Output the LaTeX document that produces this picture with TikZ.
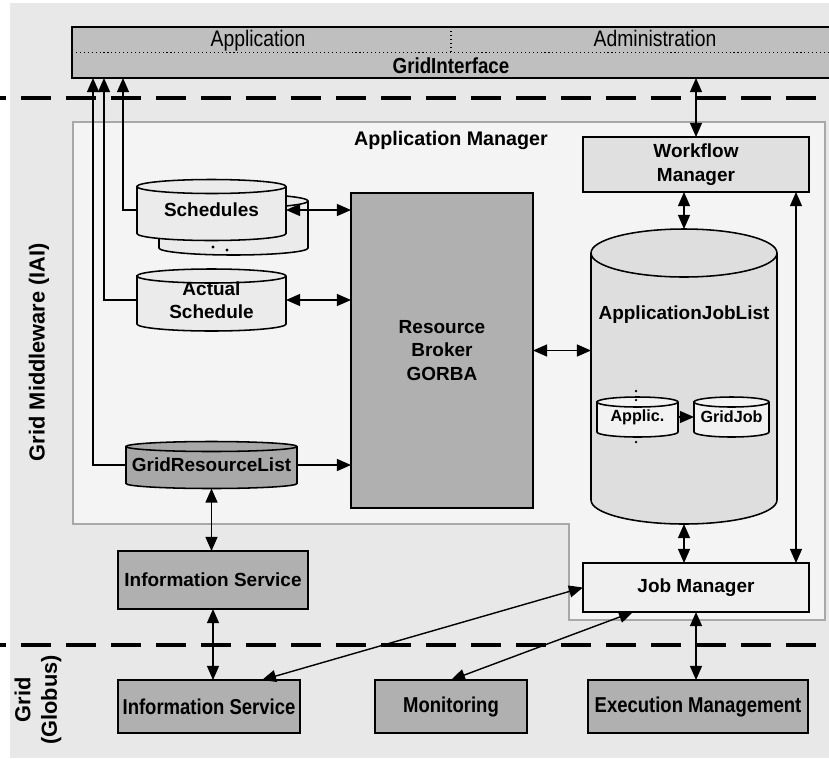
\documentclass[tikz,border=0pt]{standalone}
\usepackage{fontspec}
\setmainfont{Liberation Sans}
\newfontfamily\narrowfont[FakeStretch=0.86]{Liberation Sans}
\usetikzlibrary{arrows.meta, positioning, calc}

\definecolor{bggray}{gray}{0.91}
\definecolor{amfill}{gray}{0.955}
\definecolor{amline}{gray}{0.66}
\definecolor{barfill}{gray}{0.75}
\definecolor{wfmfill}{gray}{0.88}
\definecolor{jmfill}{gray}{0.94}
\definecolor{darkfill}{gray}{0.69}
\definecolor{grlfill}{gray}{0.66}
\definecolor{ajlfill}{gray}{0.87}
\definecolor{cylfill}{gray}{0.92}
\definecolor{smallfill}{gray}{0.95}

\tikzset{
  wh/.style 2 args={minimum width=#1*0.025cm, minimum height=#2*0.025cm},
  box/.style={draw, line width=1.1pt, inner sep=0pt, outer sep=0pt, align=center,
    font=\bfseries\fontsize{13.5}{17}\selectfont},
  gridbox/.style={box, fill=darkfill, font=\narrowfont\bfseries\fontsize{15.3}{18}\selectfont},
  cyltext/.style={inner sep=0pt, outer sep=0pt, align=center,
    font=\bfseries\fontsize{13.5}{16}\selectfont},
  bartext/.style={anchor=base, font=\narrowfont\fontsize{16}{18}\selectfont},
  sidetext/.style={rotate=90, align=center, font=\bfseries\fontsize{15.5}{19}\selectfont},
  link/.style={line width=1pt, {Triangle[length=10pt,width=8.5pt]}-{Triangle[length=10pt,width=8.5pt]}},
  oneway/.style={line width=1pt, -{Triangle[length=10pt,width=8.5pt]}},
  layerline/.style={line width=3pt, dash pattern=on 21pt off 11pt, dash phase=17pt},
  divider/.style={line width=0.8pt, dotted},
}

% cylinder: name, centre x, centre y, width, height, y radius, fill, text
\newcommand{\drum}[8]{%
  \filldraw[fill=#7, line width=1.1pt] ({#2-#4/2},{#3-#5/2}) -- ({#2-#4/2},{#3+#5/2})
    arc[start angle=180, end angle=0, x radius=#4/2, y radius=#6]
    -- ({#2+#4/2},{#3-#5/2})
    arc[start angle=0, end angle=-180, x radius=#4/2, y radius=#6] -- cycle;
  \draw[line width=1.1pt] ({#2-#4/2},{#3-#5/2})
    arc[start angle=180, end angle=0, x radius=#4/2, y radius=#6];
  \node[cyltext, wh={#4}{#5}] (#1) at (#2,#3) {#8};
  \coordinate (#1t) at ({#2},{#3-#5/2-#6});
  \coordinate (#1b) at ({#2},{#3+#5/2+#6});
}

\begin{document}
\begin{tikzpicture}[x=0.025cm, y=-0.025cm]
\useasboundingbox (0,0) rectangle (829,758);
\fill[bggray] (10,3) rectangle (829,758);

% application manager area
\draw[amline, line width=0.8pt, fill=amfill] (73,122) -- (825,122) -- (825,620)
  -- (569,620) -- (569,524) -- (73,524) -- cycle;
\node[font=\bfseries\fontsize{14}{17}\selectfont] (amlabel) at (451,140) {Application Manager};

% layer borders
\draw[layerline] (0,98) -- (829,98);
\draw[layerline] (0,645) -- (829,645);
\node[sidetext] (gmw) at (39,352) {Grid Middleware (IAI)};
\node[sidetext] (globus) at (38,700) {Grid\\(Globus)};

% grid interface
\node[draw, line width=1.1pt, fill=barfill, outer sep=0pt, wh={770}{51}] (gi) at (457,52.5) {};
\draw[divider] (gi.west) -- (gi.east);
\draw[divider] (451,27) -- (451,52.5);
\node[bartext] (appl) at (258,46) {Application};
\node[bartext] (admin) at (655,46) {Administration};
\node[font=\narrowfont\bfseries\fontsize{15.5}{18}\selectfont] (gitext) at (451,66) {GridInterface};

% stores
\drum{schedback}{233.5}{224.5}{149}{47}{7}{cylfill}{}
\drum{sched}{211.5}{210}{149}{47}{7}{cylfill}{Schedules}
\fill (213,247) circle (1.2pt);
\fill (227,250) circle (1.2pt);
\drum{act}{211.5}{300}{149}{48}{7}{cylfill}{Actual\\Schedule}
\drum{grl}{211.5}{465}{171}{37}{5}{grlfill}{GridResourceList}
\drum{ajl}{684}{376.5}{186}{247}{24}{ajlfill}{}
\node[cyltext] (ajltext) at (684,315) {ApplicationJobList};
\drum{app}{637.5}{417}{81}{30}{5}{smallfill}{\fontsize{11.5}{13}\selectfont Applic.}
\drum{gj}{731.5}{417}{75}{30}{5}{smallfill}{\fontsize{11.5}{13}\selectfont GridJob}
\fill (636,391) circle (0.9pt);
\fill (636,400) circle (0.9pt);
\fill (636,442) circle (0.9pt);

% boxes
\node[box, fill=wfmfill, wh={226}{55}] (wfm) at (696,164.5) {Workflow\\Manager};
\node[box, fill=jmfill, wh={226}{49}] (jm) at (696,587.5) {Job Manager};
\node[box, fill=darkfill, wh={182}{315}] (rb) at (442,350.5) {Resource\\Broker\\GORBA};
\node[box, fill=darkfill, wh={190}{58}] (isu) at (213,580) {Information Service};
\node[gridbox, wh={182}{53}] (isl) at (209,706.5) {Information Service};
\node[gridbox, wh={152}{53}] (mon) at (451,706.5) {Monitoring};
\node[gridbox, wh={220}{53}] (exm) at (698,706.5) {Execution Management};

% connectors
\draw[link] (wfm.north) -- (wfm.north |- gi.south);
\draw[link] (ajlt) -- (ajlt |- wfm.south);
\draw[link] (ajlb) -- (ajlb |- jm.north);
\draw[link] ($(wfm.south east)+(-13,0)$) -- ($(jm.north east)+(-13,0)$);
\draw[link] (rb.east) -- (rb.east -| ajl.west);
\draw[link] (sched.east) -- (sched.east -| rb.west);
\draw[link] (act.east) -- (act.east -| rb.west);
\draw[oneway] (grl.east) -- (grl.east -| rb.west);
\draw[oneway] (app.east) -- (gj.west);
\draw[link] (grlb) -- (grlb |- isu.north);
\draw[link] (isu.south) -- (isu.south |- isl.north);
\draw[link] (jm.west) -- ($(isl.north east)+(-38,0)$);
\draw[link] ($(jm.south west)+(50,0)$) -- (mon.north);
\draw[link] (jm.south) -- (jm.south |- exm.north);
\draw[oneway] (sched.west) -| ($(gi.south west)+(51,0)$);
\draw[oneway] (act.west) -| ($(gi.south west)+(32,0)$);
\draw[oneway] (grl.west) -| ($(gi.south west)+(21,0)$);
\end{tikzpicture}
\end{document}
